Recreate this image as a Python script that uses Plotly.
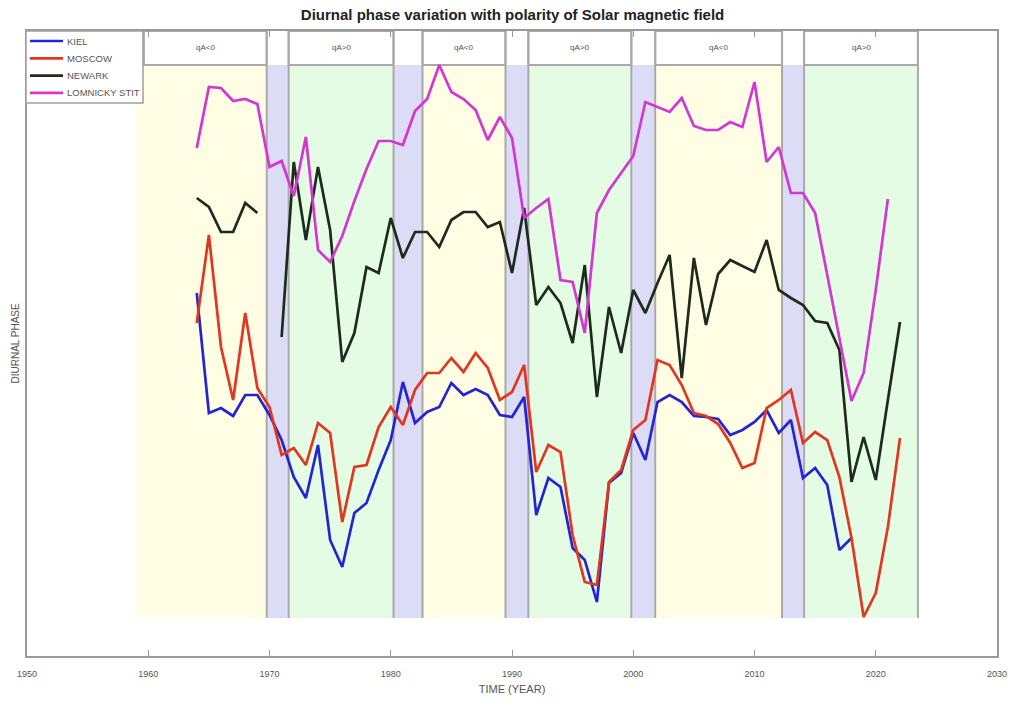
import plotly.graph_objects as go

# Diurnal phase per station (arbitrary phase units), yearly values
kiel_years = list(range(1964, 2019))
kiel = [362, 242, 247, 239, 260, 260, 240, 215, 178, 157,
        210, 115, 88, 142, 152, 185, 215, 273, 232, 243,
        248, 272, 260, 266, 260, 240, 238, 258, 140, 177,
        168, 107, 95, 53, 172, 182, 222, 195, 253, 260,
        253, 239, 238, 236, 220, 225, 233, 245, 222, 235,
        177, 187, 170, 105, 117]

moscow_years = list(range(1964, 2023))
moscow = [332, 420, 308, 255, 342, 267, 248, 200, 207, 190,
          232, 222, 133, 188, 190, 228, 248, 230, 265, 282,
          282, 297, 283, 302, 287, 255, 263, 290, 183, 210,
          203, 120, 73, 70, 173, 185, 225, 235, 295, 290,
          270, 242, 239, 231, 212, 187, 192, 247, 255, 265,
          212, 223, 215, 178, 117, 38, 62, 128, 217]

newark_years = list(range(1964, 2023))
newark = [457, 448, 423, 423, 452, 442, None, 318, 493, 415,
          488, 425, 293, 322, 388, 382, 437, 397, 423, 423,
          408, 435, 443, 443, 428, 433, 382, 447, 350, 368,
          352, 312, 390, 258, 348, 302, 365, 342, 372, 400,
          277, 397, 330, 381, 395, 389, 383, 415, 365, 357,
          350, 334, 332, 305, 173, 218, 175, 255, 333]

lomnicky_years = list(range(1964, 2022))
lomnicky = [507, 568, 567, 554, 556, 551, 488, 494, 459, 518,
            405, 393, 419, 454, 486, 514, 514, 510, 544, 556,
            590, 563, 556, 545, 515, 538, 517, 437, 447, 456,
            375, 373, 322, 442, 465, 482, 499, 553, 548, 543,
            557, 529, 525, 525, 533, 528, 573, 493, 508, 462,
            462, 442, 380, 315, 254, 282, 365, 456]

# Solar polarity epochs; reversal intervals lie between consecutive epochs
epoch_starts = [1958.98, 1971.58, 1982.62, 1991.35, 2001.81, 2014.09]
epoch_ends = [1969.77, 1980.23, 1989.46, 1999.84, 2012.27, 2023.48]
box_starts = [1959.64, 1971.58, 1982.62, 1991.35, 2001.81, 2014.09]
epoch_labels = ["qA<0", "qA>0", "qA<0", "qA>0", "qA<0", "qA>0"]

series = [
    ("KIEL", kiel_years, kiel, "#2424d6"),
    ("MOSCOW", moscow_years, moscow, "#e2361f"),
    ("NEWARK", newark_years, newark, "#1c2b1c"),
    ("LOMNICKY STIT", lomnicky_years, lomnicky, "#d535d5"),
]

W, H = 1011, 707
L, R, T, B = 27, 14, 31, 51
font = "Liberation Sans"

fig = go.Figure()
for name, yrs, vals, col in series:
    fig.add_trace(go.Scatter(
        x=yrs, y=vals, name=name, mode="lines",
        line=dict(color=col, width=2.7), connectgaps=False,
        showlegend=False,
    ))

band_bottom, band_top, frame_top = 37, 590, 624
shapes = []
fill_neg = "#fffee4"
fill_pos = "#e3fce3"
fill_rev = "#dcdcf6"
edge = "#a9a9a9"

for i, (s, e, lab) in enumerate(zip(epoch_starts, epoch_ends, epoch_labels)):
    shapes.append(dict(type="rect", xref="x", yref="y", x0=s, x1=e,
                       y0=band_bottom, y1=band_top, layer="below",
                       fillcolor=fill_neg if lab == "qA<0" else fill_pos,
                       line=dict(width=0)))
    if i + 1 < len(epoch_starts):
        shapes.append(dict(type="rect", xref="x", yref="y", x0=e,
                           x1=epoch_starts[i + 1], y0=band_bottom, y1=band_top,
                           layer="below", fillcolor=fill_rev, line=dict(width=0)))

# label boxes above each epoch
for s, e in zip(box_starts, epoch_ends):
    shapes.append(dict(type="rect", xref="x", yref="y", x0=s, x1=e,
                       y0=band_top, y1=frame_top, layer="below",
                       fillcolor="white", line=dict(color=edge, width=2)))

# separators at each polarity boundary
for xb in epoch_ends + epoch_starts[1:]:
    shapes.append(dict(type="line", xref="x", yref="y", x0=xb, x1=xb,
                       y0=band_bottom, y1=frame_top, layer="below",
                       line=dict(color=edge, width=2)))

annotations = []
for s, e, lab in zip(box_starts, epoch_ends, epoch_labels):
    annotations.append(dict(x=(s + e) / 2, y=608, xref="x", yref="y",
                            text=lab, showarrow=False,
                            font=dict(family=font, size=8, color="#555555")))

annotations.append(dict(x=0, y=0.5, xref="paper", yref="paper",
                        xshift=-12, text="DIURNAL PHASE", textangle=-90,
                        showarrow=False, xanchor="center", yanchor="middle",
                        font=dict(family=font, size=10, color="#555555")))


# legend panel in the upper-left corner (pixel positions in the figure)
def px(xp):
    return (xp - L) / (W - L - R)


def py(yp):
    return (H - B - yp) / (H - T - B)


shapes.append(dict(type="rect", xref="paper", yref="paper",
                   x0=px(26), x1=px(143), y0=py(103), y1=py(31),
                   fillcolor="white", line=dict(color="#a0a0a0", width=1.5),
                   layer="above"))
for k, (name, _, _, col) in enumerate(series):
    yk = 41 + k * 17.3
    shapes.append(dict(type="line", xref="paper", yref="paper",
                       x0=px(30), x1=px(63), y0=py(yk), y1=py(yk),
                       line=dict(color=col, width=2.7), layer="above"))
    annotations.append(dict(x=px(65), y=py(yk), xref="paper", yref="paper",
                            text=name, showarrow=False, xanchor="left",
                            yanchor="middle",
                            font=dict(family=font, size=9.5, color="#555555")))

fig.update_layout(
    width=W, height=H,
    margin=dict(l=L, r=R, t=T, b=B, autoexpand=False),
    paper_bgcolor="white", plot_bgcolor="white",
    title=dict(text="<b>Diurnal phase variation with polarity of Solar magnetic field</b>",
               x=0.507, xanchor="center", y=1 - 15 / H, yanchor="middle",
               yref="container",
               font=dict(family=font, size=15, color="#222222")),
    shapes=shapes, annotations=annotations,
    showlegend=False,
)

fig.update_xaxes(range=[1950, 2030], dtick=10, tick0=1950, automargin=False,
                 showgrid=False, zeroline=False,
                 showline=True, linecolor="#999999", linewidth=1.5,
                 mirror="ticks", ticks="inside", ticklen=6,
                 tickcolor="#999999", ticklabelstandoff=8,
                 tickfont=dict(family=font, size=9, color="#555555"),
                 title=dict(text="TIME (YEAR)", standoff=8,
                            font=dict(family=font, size=11, color="#555555")))
fig.update_yaxes(range=[-1, 624], automargin=False,
                 showgrid=False, zeroline=False,
                 showline=True, linecolor="#999999", linewidth=1.5,
                 mirror=True, ticks="", showticklabels=False)

fig.write_html("out.html")
